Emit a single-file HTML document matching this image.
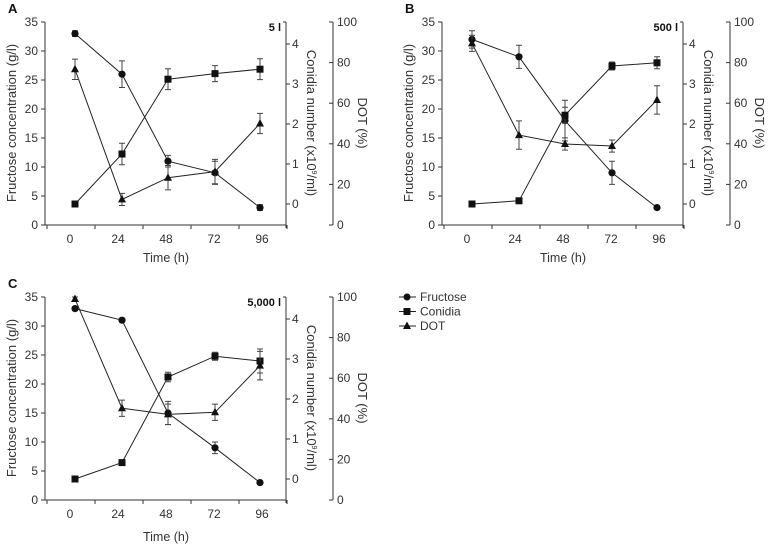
<!DOCTYPE html>
<html><head><meta charset="utf-8"><style>
body{margin:0;background:#fff}
svg{display:block;font-family:"Liberation Sans",sans-serif}
text{fill:#333}
</style></head><body>
<svg id="fig" width="774" height="552" viewBox="0 0 774 552"></svg>
<script>
const times=[2.5,26,49,72.5,95];
const xTicks=[0,24,48,72,96];
const fruTicks=[0,5,10,15,20,25,30,35];
const conTicks=[0,1,2,3,4];
const dotTicks=[0,20,40,60,80,100];
const fruA=[33,26,11,9,3], fruAErr=[0.5,2.3,1,2,0.5];
const conA=[0,1.25,3.12,3.26,3.37], conAErr=[0,0.27,0.26,0.2,0.26];
const dotA=[76.7,12.6,23.3,26.3,50], dotAErr=[5,3,6,6,5];
const fruB=[32,29,18,9,3], fruBErr=[1.5,2,3.5,2,0.3];
const conB=[0,0.08,2.22,3.45,3.53], conBErr=[0,0,0.2,0.1,0.15];
const dotB=[89.5,44.3,39.9,38.9,61.6], dotBErr=[4,7,3,3,7];
const fruC=[33,31,15,9,3], fruCErr=[0.3,0.3,2,1,0.3];
const conC=[0,0.41,2.55,3.07,2.95], conCErr=[0,0,0.12,0.1,0.3];
const dotC=[99,45.2,42.2,43.2,66.2], dotCErr=[1,4,5,4,7];
const NS="http://www.w3.org/2000/svg";
const svg=document.getElementById('fig');
function el(tag,attrs,parent,txt){const e=document.createElementNS(NS,tag);for(const k in attrs)e.setAttribute(k,attrs[k]);if(txt!==undefined)e.textContent=txt;(parent||svg).appendChild(e);return e;}
function panel(ox,oy,letter,vol,fru,fruE,con,conE,dot,dotE,timeY,pname){
  const g=el('g',{transform:`translate(${ox},${oy})`});
  
  
  const x=t=>70+t*2;
  const yF=v=>225-v*(203/35);
  const yC=v=>204-v*40;
  const yD=v=>225-v*2.03;
  const s={stroke:'#333','stroke-width':1,fill:'none'};
  const ax=el('path',Object.assign({d:'M45,22V225H286'},s),g);
  
  
  for(let k=0;k<6;k++) el('line',Object.assign({x1:47+48*k,x2:47+48*k,y1:225,y2:229},s),g);
  xTicks.forEach(t=>{const tx=el('text',{x:x(t),y:243,'font-size':12,'text-anchor':'middle'},g,t);
    
    });
  fruTicks.forEach(v=>{el('line',Object.assign({x1:41,x2:45,y1:yF(v),y2:yF(v)},s),g);
    const tx=el('text',{x:38,y:yF(v)+4,'font-size':12,'text-anchor':'end'},g,v);
    
    });
  el('path',Object.assign({d:'M286,22V228'},s),g);
  conTicks.forEach(v=>{el('line',Object.assign({x1:286,x2:290,y1:yC(v),y2:yC(v)},s),g);
    const tx=el('text',{x:292,y:yC(v)+4,'font-size':12},g,v);
    
    });
  el('line',Object.assign({x1:283,x2:286,y1:22,y2:22},s),g);
  el('path',Object.assign({d:'M333,22V225'},s),g);
  dotTicks.forEach(v=>{el('line',Object.assign({x1:329,x2:333,y1:yD(v),y2:yD(v)},s),g);
    const tx=el('text',{x:337,y:yD(v)+4,'font-size':12},g,v);
    
    });
  const t1=el('text',{x:166,y:timeY,'font-size':12.5,'text-anchor':'middle'},g,'Time (h)');
  
  const t2=el('text',{transform:'translate(16,123) rotate(-90)','font-size':13,'text-anchor':'middle'},g,'Fructose concentration (g/l)');
  
  const t3=el('text',{transform:'translate(307,123) rotate(90)','font-size':13,'text-anchor':'middle'},g);
  t3.innerHTML='Conidia number (x10<tspan dy="-5" font-size="7">9</tspan><tspan dy="5">/ml)</tspan>';
  
  const t4=el('text',{transform:'translate(358,123) rotate(90)','font-size':13,'text-anchor':'middle'},g,'DOT (%)');
  
  const pl=el('text',{x:8,y:13,'font-size':13,'font-weight':'bold',style:'fill:#111'},g,letter);
  
  const vl=el('text',{x:281,y:31,'font-size':11,'font-weight':'bold','text-anchor':'end',style:'fill:#111'},g,vol);
  
  function series(vals,errs,ys,shape,name){
    const pts=vals.map((v,i)=>x(times[i])+','+ys(v)).join(' ');
    const ln=el('polyline',{points:pts,stroke:'#222','stroke-width':1,fill:'none'},g);
    
    vals.forEach((v,i)=>{
      const cx=x(times[i]),cy=ys(v);
      if(errs[i]>0){const a=ys(v+errs[i]),b=ys(v-errs[i]);
        el('path',{d:`M${cx},${a}V${b}M${cx-3},${a}H${cx+3}M${cx-3},${b}H${cx+3}`,stroke:'#444','stroke-width':1,fill:'none'},g);}
      let m;
      if(shape==='c') m=el('circle',{cx,cy,r:3.6,fill:'#111'},g);
      else if(shape==='s') m=el('rect',{x:cx-3.5,y:cy-3.5,width:7,height:7,fill:'#111'},g);
      else m=el('path',{d:`M${cx},${cy-4.5}L${cx+4},${cy+3}L${cx-4},${cy+3}Z`,fill:'#111'},g);
      
      
    });
  }
  series(fru,fruE,yF,'c','fructose');
  series(con,conE,yC,'s','conidia');
  series(dot,dotE,yD,'t','dot');
}
panel(0,0,'A','5 l',fruA,fruAErr,conA,conAErr,dotA,dotAErr,262,'panel-a');
panel(397,0,'B','500 l',fruB,fruBErr,conB,conBErr,dotB,dotBErr,262,'panel-b');
panel(0,275,'C','5,000 l',fruC,fruCErr,conC,conCErr,dotC,dotCErr,266,'panel-c');
const lg=el('g',{});


const names=['Fructose','Conidia','DOT'];
names.forEach((n,i)=>{const y=297+i*14.5;
  el('line',{x1:399,x2:416,y1:y,y2:y,stroke:'#222'},lg);
  let m;
  if(i===0) m=el('circle',{cx:407,cy:y,r:3.5,fill:'#111'},lg);
  else if(i===1) m=el('rect',{x:403.5,y:y-3.5,width:7,height:7,fill:'#111'},lg);
  else m=el('path',{d:`M407,${y-4.5}L411,${y+3}L403,${y+3}Z`,fill:'#111'},lg);
  
  
  const t=el('text',{x:420,y:y+4,'font-size':12},lg,n);
  
  
});
</script>
</body></html>
